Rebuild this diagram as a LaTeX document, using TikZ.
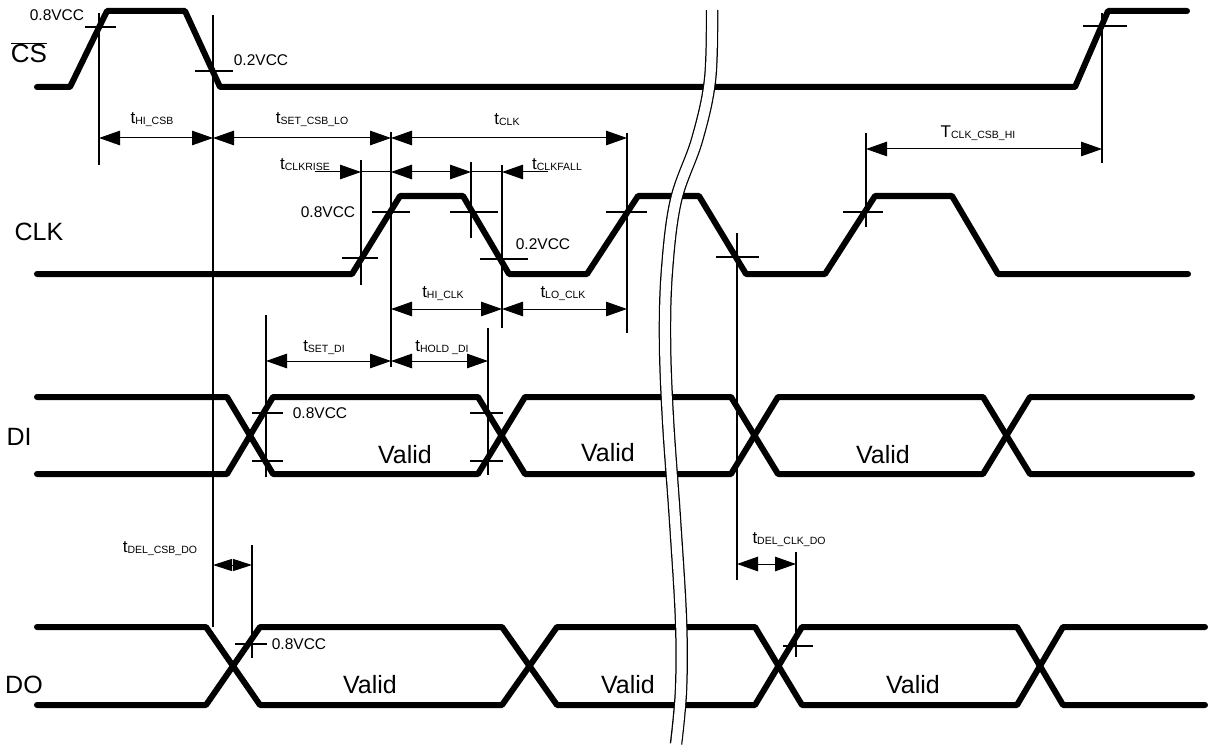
\documentclass[tikz,border=0pt]{standalone}
\usepackage{fontspec}
\setmainfont{Liberation Sans}
\usetikzlibrary{arrows.meta}
\newcommand{\tsub}[2]{#1{\fontsize{10.5}{12}\selectfont\raisebox{-1pt}{#2}}}
\begin{document}
\begin{tikzpicture}[x=1pt,y=-1pt,
  tri/.tip={Triangle[length=21pt,width=14.5pt]},
  sig/.style={line width=6pt, line cap=round, line join=round},
  refl/.style={line width=1.4pt},
  tickl/.style={line width=1.3pt},
  lead/.style={line width=1pt},
  dim/.style={lead, tri-tri},
  big/.style={font=\fontsize{25}{30}\selectfont, inner sep=0pt},
  vcc/.style={font=\fontsize{15.5}{18}\selectfont, inner sep=0pt},
  tl/.style={font=\fontsize{17}{20}\selectfont, inner sep=0pt, anchor=base},
]
\useasboundingbox (0,0) rectangle (1209,746);
\fill[white] (0,0) rectangle (1209,746);

% ---------- signals ----------
\draw[sig] (37,87) -- (70,87) -- (107,11) -- (185,11) -- (220,87) -- (1075,87) -- (1108,11) -- (1187,11);
\draw[sig] (37,274) -- (352,274) -- (400,196) -- (463,196) -- (509,274) -- (587,274) -- (638,196) -- (699,196) -- (746,274) -- (825,274) -- (875,196) -- (952,196) -- (998,274) -- (1188,274);
\draw[sig] (37,397) -- (227,397) -- (273,474) -- (478,474) -- (525,397) -- (731,397) -- (778,474) -- (983,474) -- (1030,397) -- (1192,397);
\draw[sig] (37,474) -- (227,474) -- (273,397) -- (478,397) -- (525,474) -- (731,474) -- (778,397) -- (983,397) -- (1030,474) -- (1192,474);
\draw[sig] (37,627) -- (206,627) -- (260,705) -- (502,705) -- (557,627) -- (755,627) -- (802,705) -- (1017,705) -- (1063,627) -- (1205,627);
\draw[sig] (37,705) -- (206,705) -- (260,627) -- (502,627) -- (557,705) -- (755,705) -- (802,627) -- (1017,627) -- (1063,705) -- (1205,705);

% ---------- reference lines ----------
\foreach \n/\x/\ya/\yb in {1/99/13/165, 2/213/15/627, 3/391/132/367, 4/627/133/333,
  5/1102/13/163, 6/866/133/227, 7/361/160/285, 8/471/162/238, 9/502/165/328,
  10/737/233/580, 11/266/315/477, 12/488/328/475, 13/252/545/658, 14/796/552/657}
{ \coordinate (v\n-t) at (\x,\ya); \coordinate (v\n-b) at (\x,\yb); \draw[refl] (v\n-t) -- (v\n-b); }

% ---------- level ticks ----------
\foreach \n/\xa/\xb/\y in {1/85/116/27, 2/195/233/71, 3/1083/1127/26,
  4/342/378/258, 5/372/410/212, 6/450/498/212, 7/480/528/259, 8/606/647/212,
  9/716/759/257, 10/843/883/212,
  11/252/283/413, 12/252/283/461, 13/470/503/413, 14/470/503/461,
  15/235/267/644, 16/783/813/646}
{ \coordinate (k\n-a) at (\xa,\y); \coordinate (k\n-b) at (\xb,\y); \draw[tickl] (k\n-a) -- (k\n-b); }

% ---------- break mark ----------
\draw[line width=12.5pt, line cap=butt] plot[smooth, tension=0.6] coordinates {(712,10) (710,80) (697,140) (676,200) (667,270) (665,340) (668,420) (675,520) (681,620) (681,690) (676,744)};
\draw[white, line width=10pt, line cap=butt] plot[smooth, tension=0.6] coordinates {(712,9) (710,80) (697,140) (676,200) (667,270) (665,340) (668,420) (675,520) (681,620) (681,690) (676,745)};

% ---------- dimension arrows ----------
\coordinate (a1) at (99,138);  \coordinate (a2) at (213,138);
\coordinate (a3) at (391,138); \coordinate (a4) at (627,138);
\draw[dim] (a1) -- (a2);
\draw[dim] (a2) -- (a3);
\draw[dim] (a3) -- (a4);
\coordinate (b1) at (866,149); \coordinate (b2) at (1102,149);
\draw[dim] (b1) -- (b2);
\coordinate (r0) at (315,172); \coordinate (r1) at (361,172); \coordinate (r2) at (391,172);
\coordinate (r3) at (471,172); \coordinate (r4) at (502,172); \coordinate (r5) at (548,172);
\draw[lead,-tri] (r0) -- (r1);
\draw[lead] (r1) -- (r2);
\draw[dim] (r2) -- (r3);
\draw[lead] (r3) -- (r4);
\draw[lead,-tri] (r5) -- (r4);
\coordinate (c1) at (391,309); \coordinate (c2) at (502,309); \coordinate (c3) at (627,309);
\draw[dim] (c1) -- (c2);
\draw[dim] (c2) -- (c3);
\coordinate (d1) at (266,361); \coordinate (d2) at (391,361); \coordinate (d3) at (488,361);
\draw[dim] (d1) -- (d2);
\draw[dim] (d2) -- (d3);
\coordinate (e1) at (213,565); \coordinate (e2) at (252,565);
\draw[lead, {Triangle[length=19pt,width=12pt]}-{Triangle[length=19pt,width=12pt]}] (e1) -- (e2);
\coordinate (f1) at (737,564); \coordinate (f2) at (796,564);
\draw[dim] (f1) -- (f2);

% ---------- signal names ----------
\node[big, font=\fontsize{26}{30}\selectfont] (lcs) at (29,53) {$\overline{\mbox{CS}}$};
\node[big] (lclk) at (39,232) {CLK};
\node[big] (ldi) at (19,437) {DI};
\node[big] (ldo) at (24,685) {DO};

% ---------- level labels ----------
\node[vcc] (p1) at (57,15) {0.8VCC};
\node[vcc] (p2) at (261,60) {0.2VCC};
\node[vcc] (p3) at (328,212) {0.8VCC};
\node[vcc] (p4) at (543,244) {0.2VCC};
\node[vcc] (p5) at (320,413) {0.8VCC};
\node[vcc] (p6) at (299,644) {0.8VCC};

% ---------- timing labels ----------
\node[tl] (t1) at (152,124) {\tsub{t}{HI\_CSB}};
\node[tl] (t2) at (312,124) {\tsub{t}{SET\_CSB\_LO}};
\node[tl] (t3) at (507,125) {\tsub{t}{CLK}};
\node[tl] (t4) at (978,138) {\tsub{T}{CLK\_CSB\_HI}};
\node[tl] (t5) at (305,170) {\tsub{t}{CLKRISE}};
\node[tl] (t6) at (557,170) {\tsub{t}{CLKFALL}};
\node[tl] (t7) at (443,297) {\tsub{t}{HI\_CLK}};
\node[tl] (t8) at (563,297) {\tsub{t}{LO\_CLK}};
\node[tl] (t9) at (324,351) {\tsub{t}{SET\_DI}};
\node[tl] (t10) at (442,351) {\tsub{t}{HOLD \_DI}};
\node[tl] (t11) at (160,552) {\tsub{t}{DEL\_CSB\_DO}};
\node[tl] (t12) at (789,543) {\tsub{t}{DEL\_CLK\_DO}};

% ---------- data labels ----------
\node[big] (w1) at (405,455) {Valid};
\node[big] (w2) at (608,453) {Valid};
\node[big] (w3) at (883,455) {Valid};
\node[big] (w4) at (370,685) {Valid};
\node[big] (w5) at (628,685) {Valid};
\node[big] (w6) at (913,685) {Valid};
\end{tikzpicture}
\end{document}
